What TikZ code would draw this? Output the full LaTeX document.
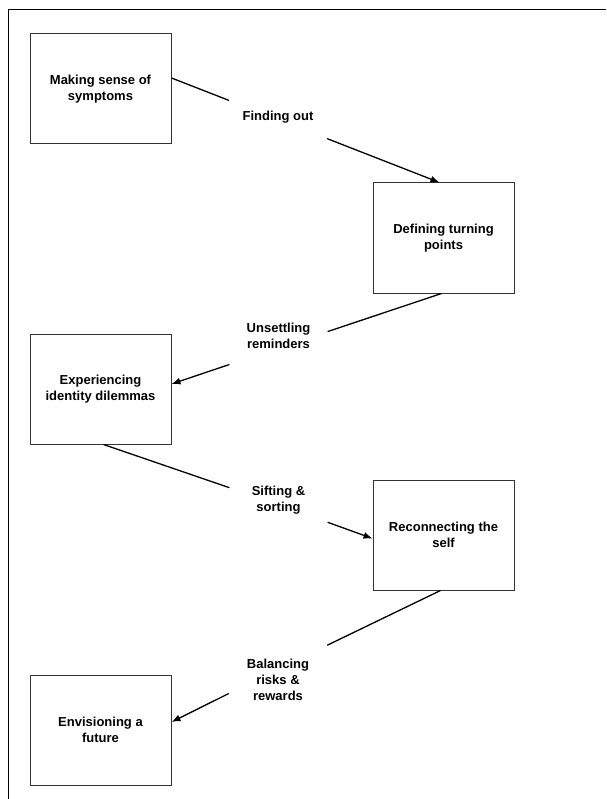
\documentclass[tikz,border=0pt]{standalone}
\usepackage{fontspec}
\setmainfont{Liberation Sans}
\usepackage{tikz}
\usetikzlibrary{positioning}
\usetikzlibrary{arrows}
\usetikzlibrary{arrows.meta}
\tikzset{stage node/.style={rectangle,draw=black!80,line width=1pt,minimum width=141pt,minimum height=110pt,inner sep=0pt,align=center,font=\fontsize{13}{16}\selectfont\bfseries},
  gap node/.style={rectangle,minimum width=97pt,minimum height=60pt,inner sep=0pt},
  step label/.style={align=center,inner sep=0pt,font=\fontsize{13}{16}\selectfont\bfseries},}

\begin{document}
\begin{tikzpicture}[x=1pt, y=-1pt, >={Latex[length=9pt,width=7pt]}, line width=1.3pt]
	\useasboundingbox (0,0) rectangle (606,799);
	\draw[line width=1pt] (8,799) -- (8,10) -- (606,10);

	\node[stage node] (m1) at (100.5,89) {Making sense of\\symptoms};
	\node[stage node] (d2) [below right = 38pt and 201pt of m1] {Defining turning\\points};
	\node[stage node] (e3) [below left = 40pt and 201pt of d2] {Experiencing\\identity dilemmas};
	\node[stage node] (r4) [below right = 35pt and 201pt of e3] {Reconnecting the\\self};
	\node[stage node] (f5) [below left = 84pt and 201pt of r4] {Envisioning a\\future};

	% breaks in the connectors
	\node[gap node] (g1) at (278,119.5) {};
	\node[gap node] (g2) at (278.5,348) {};
	\node[gap node] (g3) at (278.5,504.5) {};
	\node[gap node] (g4) at (278,669) {};

	\node[step label] (l1) at ([yshift=2.5pt]g1) {Finding out};
	\node[step label] (l2) at ([yshift=12pt]g2) {Unsettling\\reminders};
	\node[step label] (l3) at ([yshift=4.5pt]g3) {Sifting \&\\sorting};
	\node[step label] (l4) at ([yshift=-11pt]g4) {Balancing\\risks \&\\rewards};

	\draw ([yshift=11pt]m1.east) -- (g1);
	\draw[->] (g1) -- ([xshift=-4pt]d2.north);
	\draw ([xshift=-2pt]d2.south) -- (g2);
	\draw[->] (g2) -- ([yshift=5pt]e3.east);
	\draw ([xshift=3pt]e3.south) -- (g3);
	\draw[->] (g3) -- ([yshift=-3.5pt]r4.west);
	\draw ([xshift=-3pt]r4.south) -- (g4);
	\draw[->] (g4) -- ([yshift=8pt]f5.east);
\end{tikzpicture}
\end{document}
